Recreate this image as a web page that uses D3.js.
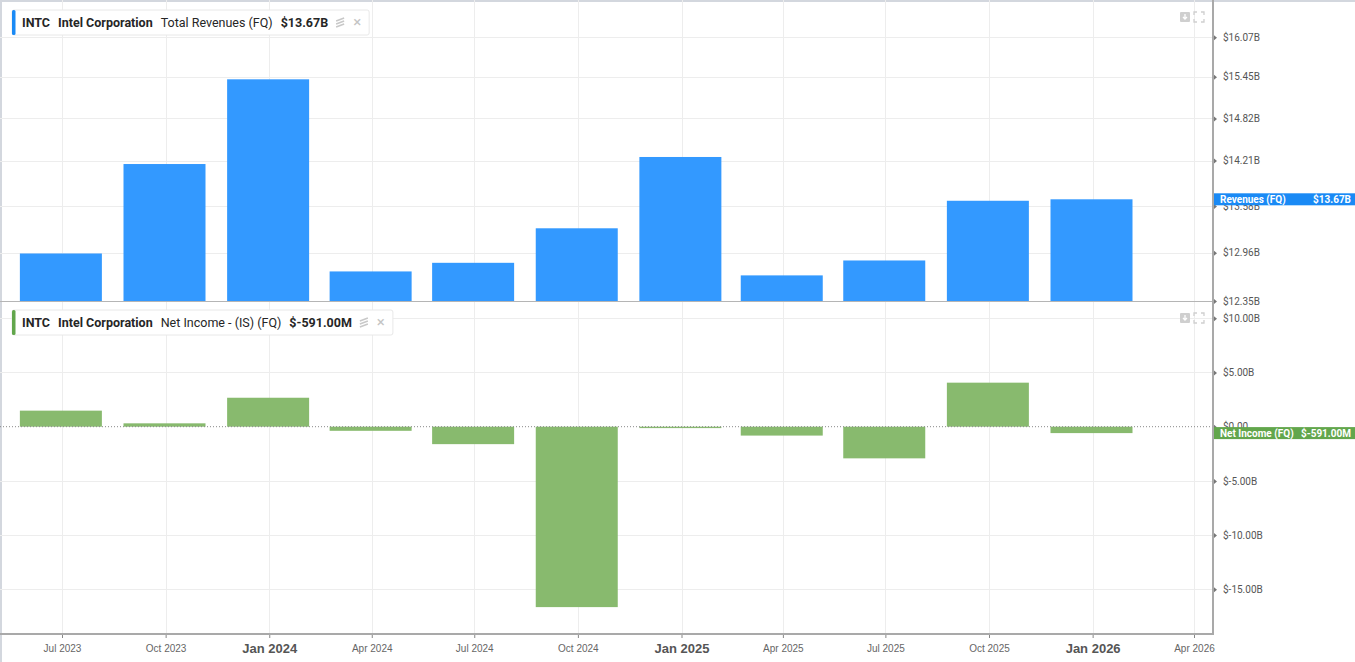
<!DOCTYPE html>
<html>
<head>
<meta charset="utf-8">
<script src="https://cdn.jsdelivr.net/npm/d3@7"></script>
<style>
  body { margin: 0; background: #fff; }
  svg { display: block; font-family: Roboto, "Noto Sans", sans-serif; }
</style>
</head>
<body>
<svg id="chart" width="1355" height="662"></svg>
<script>
// --- Data -------------------------------------------------------------
const quarterEnds = ['2023-06-30', '2023-09-30', '2023-12-31', '2024-03-31', '2024-06-30', '2024-09-30',
  '2024-12-31', '2025-03-31', '2025-06-30', '2025-09-30', '2025-12-31'];
const revenues = [12.95, 14.16, 15.41, 12.72, 12.83, 13.28, 14.26, 12.67, 12.86, 13.65, 13.67]; // $B
const netIncome = [1.48, 0.31, 2.67, -0.38, -1.61, -16.64, -0.13, -0.82, -2.92, 4.06, -0.591]; // $B
const revTicks = [12.35, 12.96, 13.58, 14.21, 14.82, 15.45, 16.07];
const niTicks = [10, 5, 0, -5, -10, -15];
const xTicks = ['2023-07-01', '2023-10-01', '2024-01-01', '2024-04-01', '2024-07-01', '2024-10-01',
  '2025-01-01', '2025-04-01', '2025-07-01', '2025-10-01', '2026-01-01', '2026-04-01'];

const parse = d3.utcParse('%Y-%m-%d');
const svg = d3.select('#chart');

// --- Layout ------------------------------------------------------------
const plotRight = 1213;
const topPanel = { top: 0, bottom: 301 };
const botPanel = { top: 302, bottom: 634 };

const x = d3.scaleUtc()
  .domain([parse('2023-07-01'), parse('2026-04-01')])
  .range([62, 1194]);

const yRev = d3.scaleLog().domain([12.35, 16.68]).range([topPanel.bottom, topPanel.top]);
const yNi = d3.scaleLinear().domain([-19.12, 11.5]).range([botPanel.bottom, botPanel.top]);

const barW = 82;
const blueBar = '#3399ff', blueFlag = '#1a8af5';
const greenBar = '#88ba6e', greenFlag = '#62a64c';

// frame borders
svg.append('rect').attr('x', 0).attr('y', 0).attr('width', 1355).attr('height', 2).attr('fill', '#d3d7de');
svg.append('rect').attr('x', 0).attr('y', 0).attr('width', 2).attr('height', 662).attr('fill', '#d3d7de');

// --- Gridlines -----------------------------------------------------------
const grid = svg.append('g').attr('stroke', '#ededed').attr('stroke-width', 1);
xTicks.forEach(d => {
  const xp = Math.round(x(parse(d))) + 0.5;
  grid.append('line').attr('x1', xp).attr('x2', xp).attr('y1', 0).attr('y2', botPanel.bottom);
});
revTicks.slice(1).forEach(v => {
  const yp = Math.round(yRev(v)) + 0.5;
  grid.append('line').attr('x1', 0).attr('x2', plotRight).attr('y1', yp).attr('y2', yp);
});
niTicks.filter(v => v !== 0).forEach(v => {
  const yp = Math.round(yNi(v)) + 0.5;
  grid.append('line').attr('x1', 0).attr('x2', plotRight).attr('y1', yp).attr('y2', yp);
});

// --- Bars ----------------------------------------------------------------
const revData = quarterEnds.map((d, i) => ({ date: parse(d), value: revenues[i] }));
const niData = quarterEnds.map((d, i) => ({ date: parse(d), value: netIncome[i] }));

svg.append('g').selectAll('rect')
  .data(revData)
  .join('rect')
  .attr('x', d => x(d.date) - barW / 2)
  .attr('width', barW)
  .attr('y', d => yRev(d.value))
  .attr('height', d => topPanel.bottom - yRev(d.value))
  .attr('fill', blueBar);

svg.append('g').selectAll('rect')
  .data(niData)
  .join('rect')
  .attr('x', d => x(d.date) - barW / 2)
  .attr('width', barW)
  .attr('y', d => Math.min(yNi(d.value), yNi(0)))
  .attr('height', d => Math.abs(yNi(d.value) - yNi(0)))
  .attr('fill', greenBar);

// zero line (dotted)
svg.append('line')
  .attr('x1', 0).attr('x2', plotRight)
  .attr('y1', yNi(0)).attr('y2', yNi(0))
  .attr('stroke', '#888').attr('stroke-width', 1).attr('stroke-dasharray', '1,2');

// panel separator
svg.append('line')
  .attr('x1', 0).attr('x2', plotRight).attr('y1', 301.5).attr('y2', 301.5)
  .attr('stroke', '#b5b5b5');

// --- Axes ----------------------------------------------------------------
function styleRightAxis(g) {
  g.select('.domain').remove();
  g.selectAll('.tick text').attr('fill', '#555').attr('font-size', 10).attr('font-family', 'Roboto, sans-serif');
  g.selectAll('.tick').append('path').attr('d', 'M1,-2.5 L4,0 L1,2.5 Z').attr('fill', '#777');
}

svg.append('g')
  .attr('transform', `translate(${plotRight},0)`)
  .call(d3.axisRight(yRev).tickValues(revTicks).tickSize(0).tickPadding(10)
    .tickFormat(v => `$${v.toFixed(2)}B`))
  .call(styleRightAxis);

svg.append('g')
  .attr('transform', `translate(${plotRight},0)`)
  .call(d3.axisRight(yNi).tickValues(niTicks).tickSize(0).tickPadding(10)
    .tickFormat(v => v === 0 ? '$0.00' : `$${v.toFixed(2)}B`))
  .call(styleRightAxis);

const xAxis = svg.append('g')
  .attr('transform', `translate(0,${botPanel.bottom})`)
  .call(d3.axisBottom(x).tickValues(xTicks.map(parse)).tickSize(4).tickPadding(5)
    .tickFormat(d3.utcFormat('%b %Y')));
xAxis.select('.domain').remove();
xAxis.selectAll('.tick line').attr('stroke', '#888');
xAxis.selectAll('.tick text')
  .attr('fill', d => d.getUTCMonth() === 0 ? '#555' : '#666')
  .attr('font-size', d => d.getUTCMonth() === 0 ? 13 : 10)
  .attr('font-weight', d => d.getUTCMonth() === 0 ? 700 : 400)
  .attr('dy', d => d.getUTCMonth() === 0 ? '0.78em' : '0.9em');

// axis frame lines
svg.append('line').attr('x1', plotRight).attr('x2', plotRight).attr('y1', 0).attr('y2', botPanel.bottom + 1)
  .attr('stroke', '#a9a9a9').attr('stroke-width', 2);
svg.append('line').attr('x1', 0).attr('x2', plotRight + 1).attr('y1', botPanel.bottom).attr('y2', botPanel.bottom)
  .attr('stroke', '#a9a9a9').attr('stroke-width', 2);

// --- Last value flags ------------------------------------------------------
function flag(yc, color, label, value) {
  const g = svg.append('g');
  g.append('rect').attr('x', plotRight + 1).attr('y', yc - 6).attr('width', 1355 - plotRight - 1).attr('height', 12)
    .attr('fill', color);
  g.append('text').attr('x', plotRight + 7).attr('y', yc + 3.5).attr('fill', '#fff')
    .attr('font-size', 10).attr('font-weight', 700).text(label);
  g.append('text').attr('x', 1351).attr('y', yc + 3.5).attr('text-anchor', 'end').attr('fill', '#fff')
    .attr('font-size', 10).attr('font-weight', 700).text(value);
}
flag(yRev(revenues[revenues.length - 1]), blueFlag, 'Revenues (FQ)', '$13.67B');
flag(yNi(netIncome[netIncome.length - 1]), greenFlag, 'Net Income (FQ)', '$-591.00M');

// --- Legends -------------------------------------------------------------
function legend(y0, color, parts) {
  const g = svg.append('g');
  const box = g.append('rect').attr('x', 12).attr('y', y0).attr('height', 25).attr('rx', 2)
    .attr('fill', '#fff').attr('stroke', '#e8e8e8');
  g.append('rect').attr('x', 12).attr('y', y0).attr('width', 3.5).attr('height', 25).attr('rx', 1.5)
    .attr('fill', color);
  let xc = 22;
  parts.forEach(p => {
    const t = g.append('text').attr('x', xc).attr('y', y0 + 17).attr('fill', '#262626')
      .attr('font-size', 12.5).attr('font-weight', p.bold ? 700 : 400).text(p.text);
    xc += t.node().getComputedTextLength() + 8;
  });
  // stack icon
  const ic = g.append('g').attr('transform', `translate(${xc + 4},${y0 + 12.5})`).attr('stroke', '#c8c8c8')
    .attr('stroke-width', 1.6).attr('fill', 'none');
  [-3, 0, 3].forEach(dy => ic.append('path').attr('d', `M-4,${dy + 1.5} L4,${dy - 1.5}`));
  // close icon
  g.append('text').attr('x', xc + 21).attr('y', y0 + 17).attr('text-anchor', 'middle')
    .attr('fill', '#c4c4c4').attr('font-size', 15).text('\u00d7');
  box.attr('width', xc + 33 - 12);
}
legend(10, blueFlag, [
  { text: 'INTC', bold: true }, { text: 'Intel Corporation', bold: true },
  { text: 'Total Revenues (FQ)', bold: false }, { text: '$13.67B', bold: true }]);
legend(310, greenFlag, [
  { text: 'INTC', bold: true }, { text: 'Intel Corporation', bold: true },
  { text: 'Net Income - (IS) (FQ)', bold: false }, { text: '$-591.00M', bold: true }]);

// --- Panel buttons ---------------------------------------------------------
function panelButtons(y0) {
  const g = svg.append('g').attr('transform', `translate(1180,${y0})`);
  g.append('rect').attr('width', 10).attr('height', 10).attr('rx', 1).attr('fill', '#cfcfcf');
  g.append('path').attr('d', 'M5,2 L5,7 M3,5 L5,7 L7,5').attr('stroke', '#fff').attr('stroke-width', 1.3).attr('fill', 'none');
  g.append('path')
    .attr('d', 'M14,3 L14,0 L17,0 M21,0 L24,0 L24,3 M24,7 L24,10 L21,10 M17,10 L14,10 L14,7')
    .attr('stroke', '#cfcfcf').attr('stroke-width', 1.3).attr('fill', 'none');
}
panelButtons(12);
panelButtons(313);
</script>
</body>
</html>
